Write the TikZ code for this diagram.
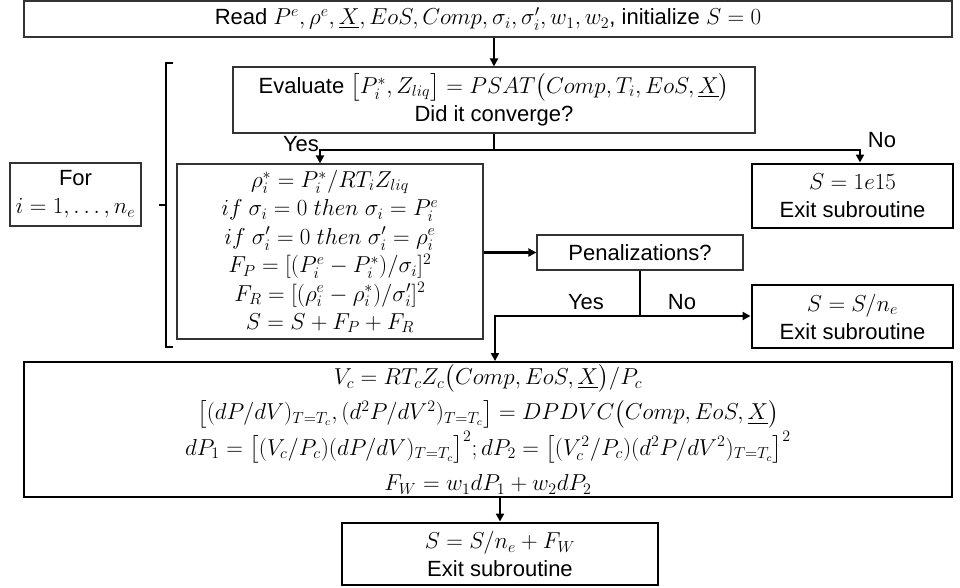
\documentclass[tikz,border=0pt]{standalone}
\usepackage{amsmath}
\usepackage[no-math]{fontspec}
\setmainfont{Liberation Sans}
\usetikzlibrary{arrows.meta}

\tikzset{
  base/.style={draw=black!80, line width=0.9pt, inner sep=0pt, align=center,
    fill=white, font=\fontsize{16.5}{21}\selectfont},
  heavy/.style={base, draw=black, line width=2.2pt},
  wire/.style={line width=1.8pt},
  flow/.style={wire, -{Triangle[length=6pt,width=6pt]}},
  lbl/.style={inner sep=0pt, font=\fontsize{16.5}{20}\selectfont},
}

\begin{document}
\begin{tikzpicture}[x=0.75pt, y=-0.75pt]
\useasboundingbox (0,0) rectangle (960,587);

% input box
\node[base, minimum width=928*0.75pt, minimum height=36*0.75pt] (rd) at (488,19)
  {Read $P^e, \rho^e, \underline{X}, EoS, Comp, \sigma_i, \sigma_i', w_1, w_2$, initialize $S = 0$};

% saturation pressure evaluation
\node[base, minimum width=522*0.75pt, minimum height=66*0.75pt] (ev) at (494,100)
  {Evaluate $\bigl[P_i^*, Z_{liq}\bigr] = PSAT\bigl(Comp, T_i, EoS, \underline{X}\bigr)$\\Did it converge?};

% loop body
\node[base, minimum width=306*0.75pt, minimum height=175*0.75pt,
      font=\fontsize{16.5}{21.3}\selectfont] (rho) at (330,251.5)
  {$\rho_i^* = P_i^*/RT_iZ_{liq}$\\
   $if\ \sigma_i = 0\ then\ \sigma_i = P_i^e$\\
   $if\ \sigma_i' = 0\ then\ \sigma_i' = \rho_i^e$\\
   $F_P = [(P_i^e - P_i^*)/\sigma_i]^2$\\
   $F_R = [(\rho_i^e - \rho_i^*)/\sigma_i']^2$\\
   $S = S + F_P + F_R$};

% loop counter
\node[base, minimum width=131*0.75pt, minimum height=63*0.75pt] (for) at (75.5,194.5)
  {For\\$i = 1, \ldots, n_e$};

% exits
\node[heavy, minimum width=201*0.75pt, minimum height=64*0.75pt] (e15) at (852.5,196)
  {$S = 1e15$\\Exit subroutine};
\node[base, minimum width=206*0.75pt, minimum height=35*0.75pt] (pen) at (640,252.5)
  {Penalizations?};
\node[heavy, minimum width=201*0.75pt, minimum height=63*0.75pt] (sne) at (852.5,316.5)
  {$S = S/n_e$\\Exit subroutine};

% critical point penalty
\node[base, draw=black, line width=1.4pt, minimum width=928*0.75pt, minimum height=135*0.75pt,
      font={\fontsize{16.5}{26.5}\selectfont\lineskiplimit=-30pt\lineskip=0pt}] (vc) at (488,429.5)
  {$V_c = RT_cZ_c\bigl(Comp, EoS, \underline{X}\bigr)/P_c$\\
   $\bigl[(dP/dV)_{T=T_c}, (d^2P/dV^2)_{T=T_c}\bigr] = DPDVC\bigl(Comp, EoS, \underline{X}\bigr)$\\
   $dP_1 = \bigl[(V_c/P_c)(dP/dV)_{T=T_c}\bigr]^2; dP_2 = \bigl[(V_c^2/P_c)(d^2P/dV^2)_{T=T_c}\bigr]^2$\\
   $F_W = w_1dP_1 + w_2dP_2$};

\node[heavy, minimum width=316*0.75pt, minimum height=62*0.75pt] (fin) at (500,554)
  {$S = S/n_e + F_W$\\Exit subroutine};

% bracket grouping the loop body
\draw[line width=1.6pt] (173,63) -- (166,63) -- (166,347) -- (173,347);
\draw[line width=1.6pt] (166,205) -- (159,205);

% branch points
\coordinate (j1) at (494,150);
\coordinate (yesA) at (320,150);
\coordinate (noA) at (860,150);
\coordinate (j2) at (640,316);
\coordinate (yesB) at (495,316);

% connectors
\draw[flow] (rd.south -| ev.north) -- (ev.north);
\draw[wire] (ev.south) -- (j1);
\draw[flow] (j1) -- (yesA) -- (yesA |- rho.north);
\draw[flow] (j1) -- (noA) -- (noA |- e15.north);
\draw[flow] (rho.east |- pen.west) -- (pen.west);
\draw[wire] (pen.south) -- (j2);
\draw[flow] (j2) -- (yesB) -- (yesB |- vc.north);
\draw[flow] (j2) -- (j2 -| sne.west);
\draw[flow] (vc.south -| fin.north) -- (fin.north);

% branch labels
\node[lbl] (yes1) at (301,144) {Yes};
\node[lbl] (no1) at (882,140) {No};
\node[lbl] (yes2) at (586,302) {Yes};
\node[lbl] (no2) at (682,302) {No};
\end{tikzpicture}
\end{document}
